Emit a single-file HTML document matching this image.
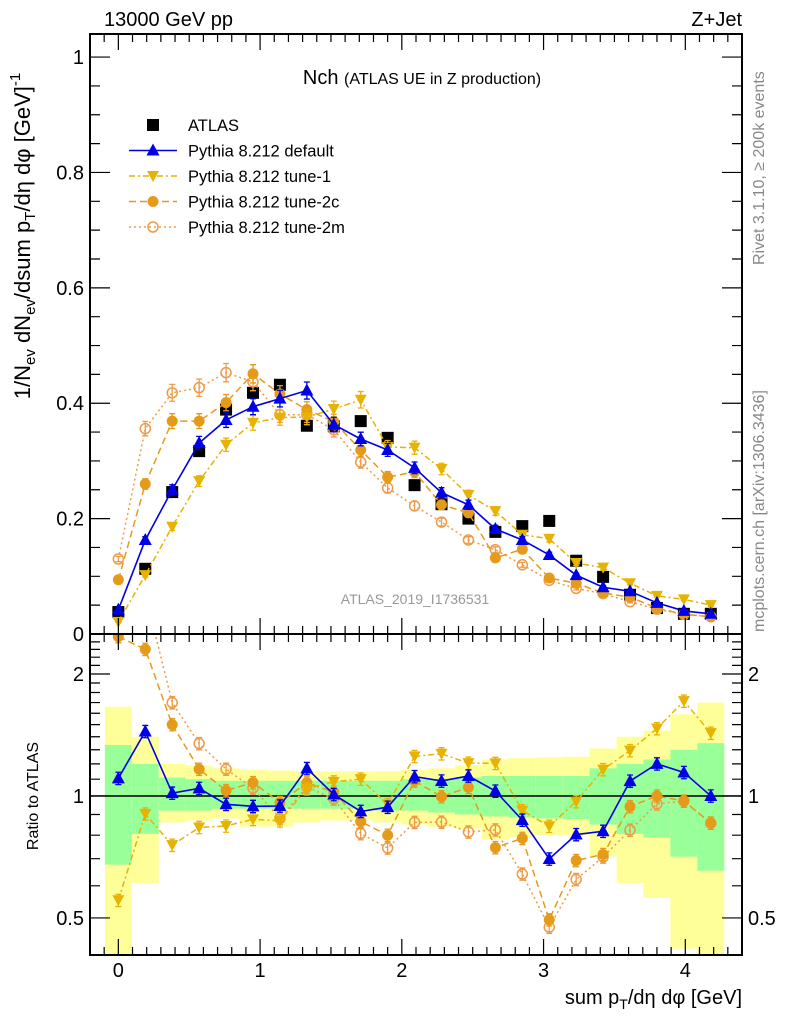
<!DOCTYPE html>
<html><head><meta charset="utf-8">
<style>
html,body{margin:0;padding:0;background:#fff;}
svg{display:block;font-family:"Liberation Sans",Arial,sans-serif;}
</style></head>
<body>
<svg id="chart" width="786" height="1024" viewBox="0 0 786 1024" xmlns="http://www.w3.org/2000/svg">
  <text x="104" y="26" font-size="20">13000 GeV pp</text>
  <text x="742" y="26" font-size="20" text-anchor="end">Z+Jet</text>
  <text x="422" y="84" font-size="20" text-anchor="middle">Nch <tspan font-size="16">(ATLAS UE in Z production)</tspan></text>
  <text x="415" y="604" font-size="14" fill="#999" text-anchor="middle">ATLAS_2019_I1736531</text>
  <text transform="translate(764,265) rotate(-90)" font-size="16" fill="#888">Rivet 3.1.10, ≥ 200k events</text>
  <text transform="translate(764,632) rotate(-90)" font-size="16" fill="#888">mcplots.cern.ch [arXiv:1306.3436]</text>
  <text transform="translate(30,236) rotate(-90)" font-size="22" text-anchor="middle">1/N<tspan font-size="15" dy="5">ev</tspan><tspan dy="-5"> dN</tspan><tspan font-size="15" dy="5">ev</tspan><tspan dy="-5">/dsum p</tspan><tspan font-size="15" dy="5">T</tspan><tspan dy="-5">/dη dφ  [GeV]</tspan><tspan font-size="15" dy="-10">-1</tspan></text>
  <text transform="translate(38,796) rotate(-90)" font-size="16" text-anchor="middle">Ratio to ATLAS</text>
  <text x="742" y="1004" font-size="20" text-anchor="end">sum p<tspan font-size="14" dy="5">T</tspan><tspan dy="-5">/dη dφ [GeV]</tspan></text>
  <g id="bands"></g>
  <g id="main"></g>
  <g id="ratio"></g>
  <g id="axes"></g>
  <g id="legend"></g>
</svg>
<script>
const xs = [0,0.19,0.38,0.57,0.76,0.95,1.14,1.33,1.52,1.71,1.9,2.09,2.28,2.47,2.66,2.85,3.04,3.23,3.42,3.61,3.8,3.99,4.18];
const atlas = [0.038,0.113,0.246,0.317,0.389,0.418,0.432,0.361,0.36,0.369,0.340,0.258,0.225,0.2,0.177,0.187,0.196,0.127,0.099,0.068,0.045,0.035,0.035];
const pyDefault = [0.042,0.163,0.25,0.331,0.371,0.394,0.408,0.422,0.363,0.338,0.319,0.288,0.245,0.224,0.182,0.163,0.137,0.102,0.081,0.074,0.054,0.04,0.035];
const pyTune1 = [0.021,0.102,0.186,0.265,0.328,0.366,0.375,0.376,0.39,0.406,0.324,0.323,0.286,0.241,0.213,0.172,0.165,0.123,0.115,0.088,0.066,0.06,0.05];
const pyTune2c = [0.094,0.26,0.369,0.369,0.401,0.451,0.416,0.389,0.368,0.319,0.272,0.281,0.224,0.21,0.132,0.147,0.097,0.088,0.071,0.064,0.045,0.034,0.030];
const pyTune2m = [0.13,0.356,0.418,0.427,0.453,0.437,0.38,0.38,0.354,0.298,0.253,0.222,0.194,0.163,0.146,0.12,0.093,0.079,0.070,0.056,0.043,0.034,0.030];
const totHi = [1.66,1.40,1.20,1.19,1.17,1.16,1.155,1.15,1.15,1.15,1.15,1.16,1.17,1.19,1.23,1.24,1.245,1.25,1.31,1.40,1.45,1.59,1.70];
const totLo = [0.3,0.61,0.86,0.87,0.88,0.84,0.84,0.86,0.87,0.87,0.86,0.85,0.84,0.83,0.78,0.79,0.80,0.80,0.71,0.61,0.56,0.42,0.3];
const statHi = [1.336,1.20,1.11,1.10,1.09,1.09,1.09,1.09,1.09,1.09,1.09,1.10,1.10,1.11,1.12,1.12,1.12,1.12,1.17,1.20,1.23,1.30,1.35];
const statLo = [0.677,0.806,0.92,0.92,0.93,0.93,0.93,0.93,0.93,0.93,0.92,0.92,0.91,0.90,0.89,0.885,0.88,0.877,0.85,0.806,0.79,0.708,0.654];
const xTicks = [0,1,2,3,4];
const yTicks = [0,0.2,0.4,0.6,0.8,1];
const yTickLabels = ["0","0.2","0.4","0.6","0.8","1"];
const rTicks = [0.5,1,2];
const rTickLabels = ["0.5","1","2"];

const NS="http://www.w3.org/2000/svg";
const L=90,R=742,T=34,MB=634,RB=955;
const X=v=>L+(v+0.2)/4.6*(R-L);
const Y=v=>MB-v/1.04*(MB-T);
const rMin=0.405,rMax=2.51;
const RY=v=>{v=Math.max(0.2,Math.min(4,v));return MB+(Math.log(rMax)-Math.log(v))/(Math.log(rMax)-Math.log(rMin))*(RB-MB);};
function mk(tag,attrs,parent){const e=document.createElementNS(NS,tag);for(const k in attrs)e.setAttribute(k,attrs[k]);parent.appendChild(e);return e;}
const gB=document.getElementById('bands'),gM=document.getElementById('main'),gR=document.getElementById('ratio'),gA=document.getElementById('axes'),gL=document.getElementById('legend');

const defs=mk('defs',{},document.getElementById('chart'));
const c1=mk('clipPath',{id:'cm'},defs);mk('rect',{x:L,y:T,width:R-L,height:MB-T},c1);
const c2=mk('clipPath',{id:'cr'},defs);mk('rect',{x:L,y:MB,width:R-L,height:RB-MB},c2);
gR.setAttribute('clip-path','url(#cr)');gB.setAttribute('clip-path','url(#cr)');gM.setAttribute('clip-path','url(#cm)');

const hw=0.095;
xs.forEach((x,i)=>{
  let r=mk('rect',{x:X(x-hw),y:RY(totHi[i]),width:X(x+hw)-X(x-hw),height:RY(totLo[i])-RY(totHi[i]),fill:'#ffff99'},gB);
  
  
  let s=mk('rect',{x:X(x-hw),y:RY(statHi[i]),width:X(x+hw)-X(x-hw),height:RY(statLo[i])-RY(statHi[i]),fill:'#99ff99'},gB);
  
  
});
let one=mk('line',{x1:L,x2:R,y1:RY(1),y2:RY(1),stroke:'#000','stroke-width':1.5},gB);



function marker(g,type,cx,cy,color){
  if(type==='sq')return mk('rect',{x:cx-6,y:cy-6,width:12,height:12,fill:'#000'},g);
  if(type==='up')return mk('polygon',{points:`${cx},${cy-7} ${cx-6.5},${cy+5} ${cx+6.5},${cy+5}`,fill:color},g);
  if(type==='down')return mk('polygon',{points:`${cx},${cy+6} ${cx-6},${cy-5} ${cx+6},${cy-5}`,fill:color},g);
  if(type==='dot')return mk('circle',{cx:cx,cy:cy,r:5.5,fill:color},g);
  if(type==='ring')return mk('circle',{cx:cx,cy:cy,r:5,fill:'none',stroke:color,'stroke-width':1.5},g);
}
const series=[
 {name:'pythia-tune-2m',vals:pyTune2m,color:'#ef9a48',dash:'2,3',type:'ring',w:1.5},
 {name:'pythia-tune-2c',vals:pyTune2c,color:'#e69a1a',dash:'7,4',type:'dot',w:1.5},
 {name:'pythia-tune-1',vals:pyTune1,color:'#e8b200',dash:'6,3,2,3',type:'down',w:1.5},
 {name:'pythia-default',vals:pyDefault,color:'#0000e6',dash:'',type:'up',w:1.6},
];
function drawSeries(g,vals,yf,s,suffix){
  const pts=xs.map((x,i)=>X(x)+','+yf(vals[i])).join(' ');
  const pl=mk('polyline',{points:pts,fill:'none',stroke:s.color,'stroke-width':s.w,'stroke-dasharray':s.dash},g);
  
  
  xs.forEach((x,i)=>{
    const cx=X(x),v=vals[i],y1=yf(v*1.035),y2=yf(v*0.965);
    const eb=mk('path',{d:`M${cx},${y1}V${y2}M${cx-3},${y1}H${cx+3}M${cx-3},${y2}H${cx+3}`,stroke:s.color,'stroke-width':1.3,fill:'none'},g);
    
    
    const m=marker(g,s.type,cx,yf(v),s.color);
    
    
  });
}
xs.forEach((x,i)=>{
  const m=marker(gM,'sq',X(x),Y(atlas[i]));
  
  
});
series.forEach(s=>drawSeries(gM,s.vals,Y,s,''));
series.forEach(s=>drawSeries(gR,s.vals.map((v,i)=>v/atlas[i]),RY,s,'-ratio'));

[[T,MB],[MB,RB]].forEach(([t,b],k)=>{
  const f=mk('rect',{x:L,y:t,width:R-L,height:b-t,fill:'none',stroke:'#000','stroke-width':2},gA);
  
  
  for(let v=-0.1;v<=4.4;v+=0.1){
    const vv=Math.round(v*10)/10;const major=Math.abs(vv-Math.round(vv))<1e-6;
    const len=major?16:8;const px=X(vv);
    mk('path',{d:`M${px},${b}v${-len}M${px},${t}v${len}`,stroke:'#000','stroke-width':1.2},gA);
  }
});
xTicks.forEach(v=>{
  const t=mk('text',{x:X(v),y:977,'font-size':20,'text-anchor':'middle'},gA);t.textContent=String(v);
  
  
});
for(let v=0;v<=1.04;v+=0.05){
  const vv=Math.round(v*100)/100;const major=Math.abs(vv*5-Math.round(vv*5))<1e-6;
  const len=major?20:10,py=Y(vv);
  mk('path',{d:`M${L},${py}h${len}M${R},${py}h${-len}`,stroke:'#000','stroke-width':1.2},gA);
}
yTicks.forEach((v,i)=>{
  const t=mk('text',{x:L-6,y:Y(v)+7,'font-size':20,'text-anchor':'end'},gA);t.textContent=yTickLabels[i];
  
  
});
for(let v=0.5;v<=2.5;v+=0.1){
  const vv=Math.round(v*10)/10;const major=(vv===0.5||vv===1||vv===2);
  const len=major?20:10,py=RY(vv);
  mk('path',{d:`M${L},${py}h${len}M${R},${py}h${-len}`,stroke:'#000','stroke-width':1.2},gA);
}
rTicks.forEach((v,i)=>{
  const t=mk('text',{x:L-6,y:RY(v)+7,'font-size':20,'text-anchor':'end'},gA);t.textContent=rTickLabels[i];
  
  
  const t2=mk('text',{x:R+6,y:RY(v)+7,'font-size':20},gA);t2.textContent=rTickLabels[i];
  
  
});
const leg=[{label:'ATLAS',type:'sq',color:'#000',dash:null},
 {label:'Pythia 8.212 default',type:'up',color:'#0000e6',dash:''},
 {label:'Pythia 8.212 tune-1',type:'down',color:'#e8b200',dash:'6,3,2,3'},
 {label:'Pythia 8.212 tune-2c',type:'dot',color:'#e69a1a',dash:'7,4'},
 {label:'Pythia 8.212 tune-2m',type:'ring',color:'#ef9a48',dash:'2,3'}];
leg.forEach((e,i)=>{
  const y=125+i*25.5;
  const g=mk('g',{},gL);
  
  
  if(e.dash!==null)mk('line',{x1:129,x2:177,y1:y,y2:y,stroke:e.color,'stroke-width':1.5,'stroke-dasharray':e.dash},g);
  marker(g,e.type,153,y,e.color);
  const t=mk('text',{x:188,y:y+6,'font-size':16.5},g);t.textContent=e.label;
});
</script>
</body></html>
